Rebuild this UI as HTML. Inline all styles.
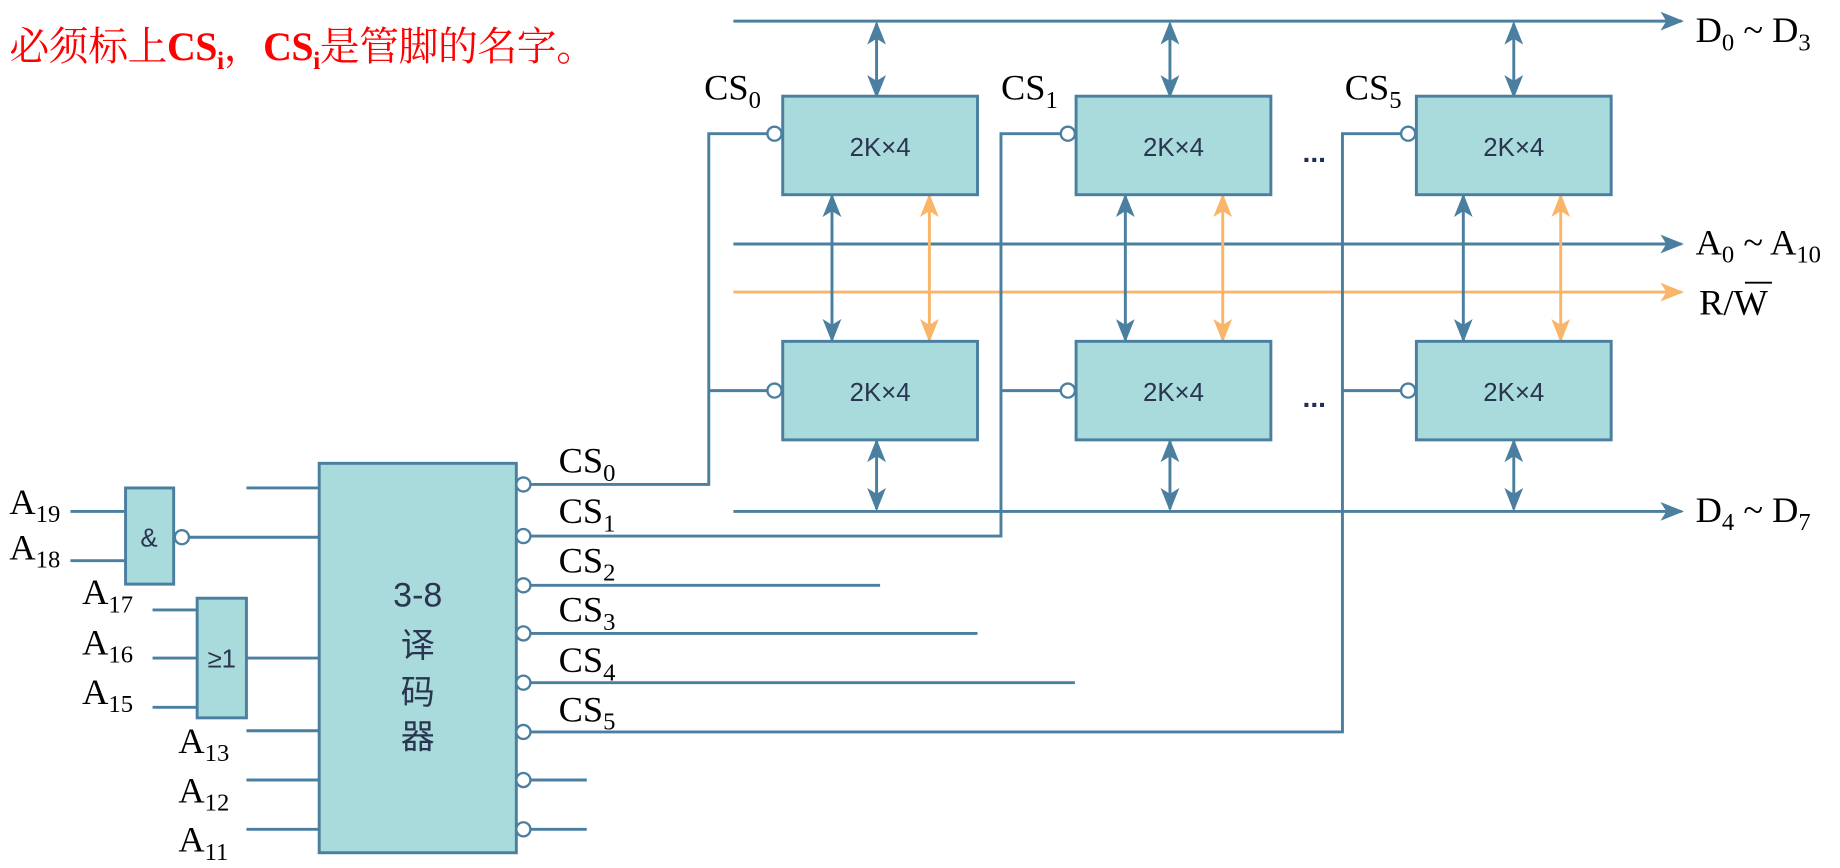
<!DOCTYPE html>
<html><head><meta charset="utf-8"><style>
html,body{margin:0;padding:0;background:#fff;}
svg{display:block;}
.l{stroke:#4a7fa0;stroke-width:2.5;fill:none;}
.o{stroke:#f9b56a;stroke-width:2.5;fill:none;}
.box{fill:#a9dadc;stroke:#4a7fa0;stroke-width:2.5;}
.bub{fill:#fff;stroke:#4a7fa0;stroke-width:2;}
.t{font-family:"Liberation Serif","Noto Serif CJK SC",serif;font-size:31px;fill:#000;}
.s{font-size:21px;}
.c{font-family:"Liberation Sans","Noto Sans CJK SC",sans-serif;font-size:22px;fill:#2a3550;}
</style></head><body>
<svg width="1840" height="868" viewBox="0 0 1568 740" preserveAspectRatio="none" xmlns="http://www.w3.org/2000/svg">
<defs>
<marker id="ab" markerUnits="userSpaceOnUse" markerWidth="20" markerHeight="16" refX="18" refY="8" orient="auto-start-reverse"><path d="M0,0 L20,8 L0,16 L5,8 Z" fill="#4a7fa0"/></marker>
<marker id="ao" markerUnits="userSpaceOnUse" markerWidth="20" markerHeight="16" refX="18" refY="8" orient="auto-start-reverse"><path d="M0,0 L20,8 L0,16 L5,8 Z" fill="#f9b56a"/></marker>
</defs>

<text x="8" y="51" style="font-family:'Liberation Serif','Noto Serif CJK SC',serif;font-size:34px;fill:#f00;" textLength="500">必须标上<tspan font-weight="bold">CS</tspan><tspan font-weight="bold" font-size="22" dy="8">i</tspan><tspan dy="-8">，</tspan><tspan font-weight="bold">CS</tspan><tspan font-weight="bold" font-size="22" dy="8">i</tspan><tspan dy="-8">是管脚的名字。</tspan></text>

<!-- buses -->
<line class="l" x1="625" y1="18" x2="1433" y2="18" marker-end="url(#ab)"/>
<line class="l" x1="625" y1="208" x2="1433" y2="208" marker-end="url(#ab)"/>
<line class="o" x1="625" y1="249" x2="1433" y2="249" marker-end="url(#ao)"/>
<line class="l" x1="625" y1="436" x2="1433" y2="436" marker-end="url(#ab)"/>

<text class="t" x="1445" y="36">D<tspan class="s" dy="7">0</tspan><tspan dy="-7"> ~ D</tspan><tspan class="s" dy="7">3</tspan></text>
<text class="t" x="1445" y="217">A<tspan class="s" dy="7">0</tspan><tspan dy="-7"> ~ A</tspan><tspan class="s" dy="7">10</tspan></text>
<text class="t" x="1448" y="268">R/W</text>
<line x1="1487" y1="241" x2="1510" y2="241" stroke="#000" stroke-width="1.5"/>
<text class="t" x="1445" y="445">D<tspan class="s" dy="7">4</tspan><tspan dy="-7"> ~ D</tspan><tspan class="s" dy="7">7</tspan></text>

<!-- vertical arrows -->
<g>
<line class="l" x1="747" y1="20" x2="747" y2="82" marker-start="url(#ab)" marker-end="url(#ab)"/>
<line class="l" x1="997" y1="20" x2="997" y2="82" marker-start="url(#ab)" marker-end="url(#ab)"/>
<line class="l" x1="1290" y1="20" x2="1290" y2="82" marker-start="url(#ab)" marker-end="url(#ab)"/>
<line class="l" x1="709" y1="167" x2="709" y2="290" marker-start="url(#ab)" marker-end="url(#ab)"/>
<line class="l" x1="959" y1="167" x2="959" y2="290" marker-start="url(#ab)" marker-end="url(#ab)"/>
<line class="l" x1="1247" y1="167" x2="1247" y2="290" marker-start="url(#ab)" marker-end="url(#ab)"/>
<line class="o" x1="792" y1="167" x2="792" y2="290" marker-start="url(#ao)" marker-end="url(#ao)"/>
<line class="o" x1="1042" y1="167" x2="1042" y2="290" marker-start="url(#ao)" marker-end="url(#ao)"/>
<line class="o" x1="1330" y1="167" x2="1330" y2="290" marker-start="url(#ao)" marker-end="url(#ao)"/>
<line class="l" x1="747" y1="376" x2="747" y2="434" marker-start="url(#ab)" marker-end="url(#ab)"/>
<line class="l" x1="997" y1="376" x2="997" y2="434" marker-start="url(#ab)" marker-end="url(#ab)"/>
<line class="l" x1="1290" y1="376" x2="1290" y2="434" marker-start="url(#ab)" marker-end="url(#ab)"/>
</g>

<!-- CS wiring -->
<polyline class="l" points="452,413 604,413 604,114 654,114"/>
<line class="l" x1="604" y1="333" x2="654" y2="333"/>
<polyline class="l" points="452,457 853,457 853,114 904,114"/>
<line class="l" x1="853" y1="333" x2="904" y2="333"/>
<polyline class="l" points="452,624 1144,624 1144,114 1194,114"/>
<line class="l" x1="1144" y1="333" x2="1194" y2="333"/>
<line class="l" x1="452" y1="499" x2="750" y2="499"/>
<line class="l" x1="452" y1="540" x2="833" y2="540"/>
<line class="l" x1="452" y1="582" x2="916" y2="582"/>
<line class="l" x1="452" y1="665" x2="500" y2="665"/>
<line class="l" x1="452" y1="707" x2="500" y2="707"/>

<!-- chips -->
<g>
<rect class="box" x="667" y="82" width="166" height="84"/>
<rect class="box" x="917" y="82" width="166" height="84"/>
<rect class="box" x="1207" y="82" width="166" height="84"/>
<rect class="box" x="667" y="291" width="166" height="84"/>
<rect class="box" x="917" y="291" width="166" height="84"/>
<rect class="box" x="1207" y="291" width="166" height="84"/>
<text class="c" x="750" y="133" text-anchor="middle">2K×4</text>
<text class="c" x="1000" y="133" text-anchor="middle">2K×4</text>
<text class="c" x="1290" y="133" text-anchor="middle">2K×4</text>
<text class="c" x="750" y="342" text-anchor="middle">2K×4</text>
<text class="c" x="1000" y="342" text-anchor="middle">2K×4</text>
<text class="c" x="1290" y="342" text-anchor="middle">2K×4</text>
<circle class="bub" cx="660" cy="114" r="6"/>
<circle class="bub" cx="910" cy="114" r="6"/>
<circle class="bub" cx="1200" cy="114" r="6"/>
<circle class="bub" cx="660" cy="333" r="6"/>
<circle class="bub" cx="910" cy="333" r="6"/>
<circle class="bub" cx="1200" cy="333" r="6"/>
</g>
<text class="t" x="600" y="85">CS<tspan class="s" dy="7">0</tspan></text>
<text class="t" x="853" y="85">CS<tspan class="s" dy="7">1</tspan></text>
<text class="t" x="1146" y="85">CS<tspan class="s" dy="7">5</tspan></text>
<text x="1110" y="138" style="font-family:'Liberation Sans',sans-serif;font-size:24px;font-weight:bold;fill:#1e2d5a;">...</text>
<text x="1110" y="347" style="font-family:'Liberation Sans',sans-serif;font-size:24px;font-weight:bold;fill:#1e2d5a;">...</text>

<!-- decoder -->
<rect class="box" x="272" y="395" width="168" height="332"/>
<text class="c" x="356" y="517" text-anchor="middle" style="font-size:29px">3-8</text>
<text class="c" x="356" y="560" text-anchor="middle" style="font-size:29px">译</text>
<text class="c" x="356" y="600" text-anchor="middle" style="font-size:29px">码</text>
<text class="c" x="356" y="638" text-anchor="middle" style="font-size:29px">器</text>
<g>
<circle class="bub" cx="446" cy="413" r="6"/>
<circle class="bub" cx="446" cy="457" r="6"/>
<circle class="bub" cx="446" cy="499" r="6"/>
<circle class="bub" cx="446" cy="540" r="6"/>
<circle class="bub" cx="446" cy="582" r="6"/>
<circle class="bub" cx="446" cy="624" r="6"/>
<circle class="bub" cx="446" cy="665" r="6"/>
<circle class="bub" cx="446" cy="707" r="6"/>
</g>
<text class="t" x="476" y="403">CS<tspan class="s" dy="7">0</tspan></text>
<text class="t" x="476" y="446">CS<tspan class="s" dy="7">1</tspan></text>
<text class="t" x="476" y="488">CS<tspan class="s" dy="7">2</tspan></text>
<text class="t" x="476" y="530">CS<tspan class="s" dy="7">3</tspan></text>
<text class="t" x="476" y="573">CS<tspan class="s" dy="7">4</tspan></text>
<text class="t" x="476" y="615">CS<tspan class="s" dy="7">5</tspan></text>

<!-- decoder inputs -->
<line class="l" x1="210" y1="416" x2="272" y2="416"/>
<line class="l" x1="161" y1="458" x2="272" y2="458"/>
<line class="l" x1="210" y1="561" x2="272" y2="561"/>
<line class="l" x1="210" y1="623" x2="272" y2="623"/>
<line class="l" x1="210" y1="665" x2="272" y2="665"/>
<line class="l" x1="210" y1="707" x2="272" y2="707"/>

<!-- AND gate -->
<line class="l" x1="60" y1="436" x2="107" y2="436"/>
<line class="l" x1="60" y1="478" x2="107" y2="478"/>
<rect class="box" x="107" y="416" width="41" height="82"/>
<text class="c" x="127" y="466" text-anchor="middle">&amp;</text>
<circle class="bub" cx="155" cy="458" r="6"/>
<text class="t" x="8" y="438">A<tspan class="s" dy="7">19</tspan></text>
<text class="t" x="8" y="477">A<tspan class="s" dy="7">18</tspan></text>

<!-- OR gate -->
<line class="l" x1="130" y1="520" x2="168" y2="520"/>
<line class="l" x1="130" y1="561" x2="168" y2="561"/>
<line class="l" x1="130" y1="603" x2="168" y2="603"/>
<rect class="box" x="168" y="510" width="42" height="102"/>
<text class="c" x="189" y="569" text-anchor="middle">≥1</text>
<text class="t" x="70" y="515">A<tspan class="s" dy="7">17</tspan></text>
<text class="t" x="70" y="558">A<tspan class="s" dy="7">16</tspan></text>
<text class="t" x="70" y="600">A<tspan class="s" dy="7">15</tspan></text>
<text class="t" x="152" y="642">A<tspan class="s" dy="7">13</tspan></text>
<text class="t" x="152" y="684">A<tspan class="s" dy="7">12</tspan></text>
<text class="t" x="152" y="726">A<tspan class="s" dy="7">11</tspan></text>
</svg>
</body></html>
